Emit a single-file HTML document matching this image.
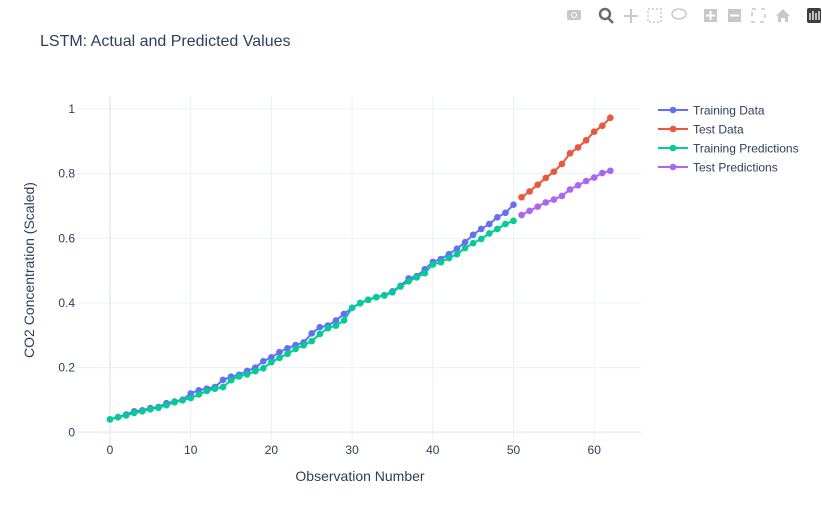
<!DOCTYPE html>
<html><head><meta charset="utf-8"><style>
body{margin:0;background:#fff;font-family:"Liberation Sans",sans-serif}
svg{display:block}
</style></head><body>
<svg id="chart" width="822" height="517" xmlns="http://www.w3.org/2000/svg">
<rect width="822" height="517" fill="#fff"/>
<text x="40" y="46" font-size="16" fill="#2a3f5f">LSTM: Actual and Predicted Values</text>
<g id="modebar" fill="#c8c8c8">
<g><rect x="567" y="10" width="14" height="10" rx="2"/><circle cx="574" cy="15" r="3" fill="#fff"/><circle cx="574" cy="15" r="2"/></g>
<g><circle cx="605" cy="14" r="5" fill="none" stroke="#6c6c6c" stroke-width="2.5"/><line x1="608" y1="18" x2="613" y2="23" stroke="#6c6c6c" stroke-width="2.5"/></g>
<g stroke="#c8c8c8" stroke-width="2"><line x1="624" y1="16" x2="638" y2="16"/><line x1="631" y1="9" x2="631" y2="23"/></g>
<rect x="648" y="9" width="13" height="13" fill="none" stroke="#c8c8c8" stroke-dasharray="2 2" stroke-width="1.5"/>
<ellipse cx="679" cy="14" rx="7" ry="5" fill="none" stroke="#c8c8c8" stroke-width="1.5"/>
<g><rect x="704" y="9" width="13" height="13"/><path d="M706 15.5h9M710.5 11v9" stroke="#fff" stroke-width="2"/></g>
<g><rect x="728" y="9" width="13" height="13"/><path d="M730 15.5h9" stroke="#fff" stroke-width="2"/></g>
<rect x="752" y="9" width="13" height="13" fill="none" stroke="#c8c8c8" stroke-width="1.5" stroke-dasharray="4 5"/>
<path d="M776 16l7-7 7 7h-2v6h-3v-4h-4v4h-3v-6z"/>
<g><rect x="807" y="8" width="14" height="15" rx="2" fill="#3f3f3f"/><path d="M810 13v7M813 11v9M816 13v7M819 11v9" stroke="#fff" stroke-width="1.3"/></g>
</g>
<g id="grid"></g>
<g id="series"></g>
<text x="360" y="481" font-size="14" fill="#2a3f5f" text-anchor="middle">Observation Number</text>
<text transform="translate(34,270) rotate(-90)" font-size="14" fill="#2a3f5f" text-anchor="middle">CO2 Concentration (Scaled)</text>
<g id="legend"></g>
</svg>
<script>
const xTicks=[0,10,20,30,40,50,60];
const yTicks=[0,0.2,0.4,0.6,0.8,1];
const yTickLabels=["0","0.2","0.4","0.6","0.8","1"];
const trainPred=[0.040,0.047,0.052,0.060,0.065,0.071,0.076,0.084,0.093,0.099,0.106,0.117,0.128,0.135,0.140,0.161,0.173,0.179,0.189,0.198,0.217,0.230,0.243,0.258,0.269,0.282,0.304,0.322,0.330,0.346,0.385,0.399,0.410,0.418,0.423,0.433,0.451,0.467,0.479,0.492,0.519,0.526,0.539,0.551,0.570,0.585,0.598,0.615,0.629,0.644,0.654];
const trainData=[0.040,0.047,0.055,0.065,0.068,0.075,0.078,0.090,0.095,0.101,0.120,0.130,0.135,0.140,0.162,0.172,0.178,0.190,0.200,0.220,0.232,0.248,0.260,0.270,0.278,0.306,0.325,0.330,0.346,0.366,0.385,0.400,0.410,0.418,0.424,0.436,0.453,0.476,0.483,0.504,0.527,0.536,0.551,0.568,0.588,0.611,0.629,0.644,0.665,0.679,0.704];
const testData=[0.727,0.745,0.766,0.787,0.806,0.830,0.863,0.881,0.903,0.930,0.948,0.973];
const testPred=[0.672,0.685,0.698,0.711,0.720,0.731,0.751,0.764,0.777,0.788,0.802,0.809];
const NS="http://www.w3.org/2000/svg";
const L=77,R=641,T=96,B=447;
const xs=v=>110+v*8.07;
const ys=v=>432.3-v*323.3;
function mk(tag,attrs,parent){const e=document.createElementNS(NS,tag);for(const k in attrs)e.setAttribute(k,attrs[k]);parent.appendChild(e);return e;}
const grid=document.getElementById('grid');
xTicks.forEach(t=>{
 const l=mk('line',{x1:xs(t),x2:xs(t),y1:T,y2:B,stroke:'#ebf0f8','stroke-width':t===0?2:1},grid);
 
 
 const tx=mk('text',{x:xs(t),y:B+7,'font-size':12,fill:'#2a3f5f','text-anchor':'middle'},grid);
 tx.textContent=t;
 
 
});
yTicks.forEach((t,i)=>{
 const l=mk('line',{x1:L,x2:R,y1:ys(t),y2:ys(t),stroke:'#ebf0f8','stroke-width':t===0?2:1},grid);
 
 
 const tx=mk('text',{x:L-2,y:ys(t)+4,'font-size':12,fill:'#2a3f5f','text-anchor':'end'},grid);
 tx.textContent=yTickLabels[i];
 
 
});
const ser=document.getElementById('series');
function draw(vals,x0,color,name){
 const g=mk('g',{},ser);
 
 
 const pts=vals.map((v,i)=>xs(x0+i)+','+ys(v)).join(' ');
 mk('polyline',{points:pts,fill:'none',stroke:color,'stroke-width':2},g);
 vals.forEach((v,i)=>{
  const c=mk('circle',{cx:xs(x0+i),cy:ys(v),r:3.3,fill:color},g);
  
  
 });
}
draw(trainData,0,'#636efa','training-data-series');
draw(testData,51,'#ef553b','test-data-series');
draw(trainPred,0,'#00cc96','training-predictions-series');
draw(testPred,51,'#ab63fa','test-predictions-series');
const leg=document.getElementById('legend');
const names=['Training Data','Test Data','Training Predictions','Test Predictions'];
const cols=['#636efa','#ef553b','#00cc96','#ab63fa'];
names.forEach((n,i)=>{
 const y=110+i*19;
 const g=mk('g',{},leg);
 
 
 mk('line',{x1:658,x2:688,y1:y,y2:y,stroke:cols[i],'stroke-width':2},g);
 mk('circle',{cx:673,cy:y,r:3.3,fill:cols[i]},g);
 const t=mk('text',{x:693,y:y+4.5,'font-size':12,fill:'#2a3f5f'},g);
 t.textContent=n;
});
</script>
</body></html>
